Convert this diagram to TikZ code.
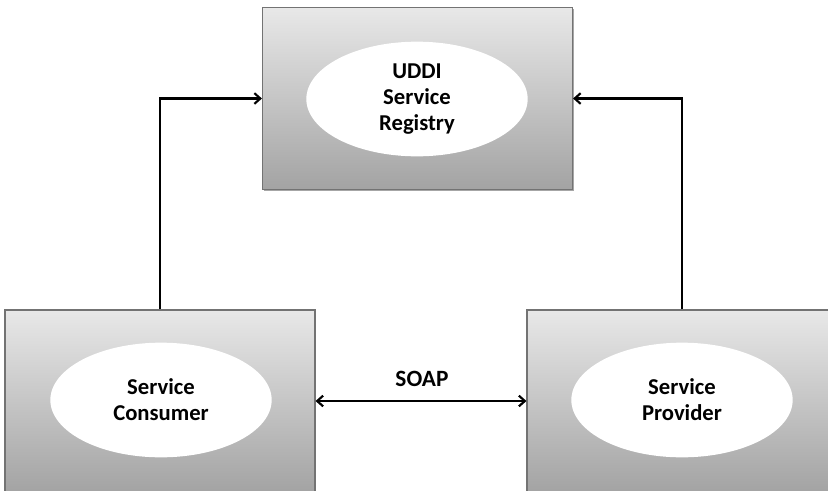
\documentclass[tikz,border=0pt]{standalone}
\usepackage{fontspec}
\setmainfont{Carlito}
\usetikzlibrary{arrows.meta,shapes.geometric,shadows}
\tikzset{
  panel/.style={rectangle, draw=black!55, line width=0.8pt, top color=black!9, bottom color=black!36,
    minimum width=232.5pt, minimum height=136.5pt, inner sep=0pt,
    drop shadow={shadow xshift=0.9pt, shadow yshift=-0.9pt, opacity=0.35, fill=black}},
  oval/.style={ellipse, fill=white, draw=none, minimum width=166pt, minimum height=86pt,
    inner sep=0pt, align=center, font=\fontsize{17}{19.5}\selectfont\bfseries},
  link/.style={line width=1.8pt, black},
  tip/.style={-{Straight Barb[length=4.5pt,width=8pt,line width=1.6pt]}},
  lbl/.style={font=\fontsize{17.5}{20}\selectfont\bfseries}
}
\begin{document}
\begin{tikzpicture}[x=0.75pt,y=-0.75pt]
\clip (0,0) rectangle (828,490);
\fill[white] (0,0) rectangle (828,490);
\node[panel] (reg) at (417.5,98.5) {};
\node[panel] (con) at (160,401) {};
\node[panel] (pro) at (682,401) {};
\node[oval] (rego) at (417,99) {UDDI\\Service\\Registry};
\node[oval] (cono) at (161,400) {Service\\Consumer};
\node[oval] (proo) at (682,400) {Service\\Provider};
\draw[link,tip] (con.north) |- (reg.west);
\draw[link,tip] (pro.north) |- (reg.east);
\draw[link,{Straight Barb[length=4.5pt,width=8pt,line width=1.6pt]}-{Straight Barb[length=4.5pt,width=8pt,line width=1.6pt]}] (con.east) -- (pro.west);
\node[lbl] (soap) at (422,379) {SOAP};
\end{tikzpicture}
\end{document}
